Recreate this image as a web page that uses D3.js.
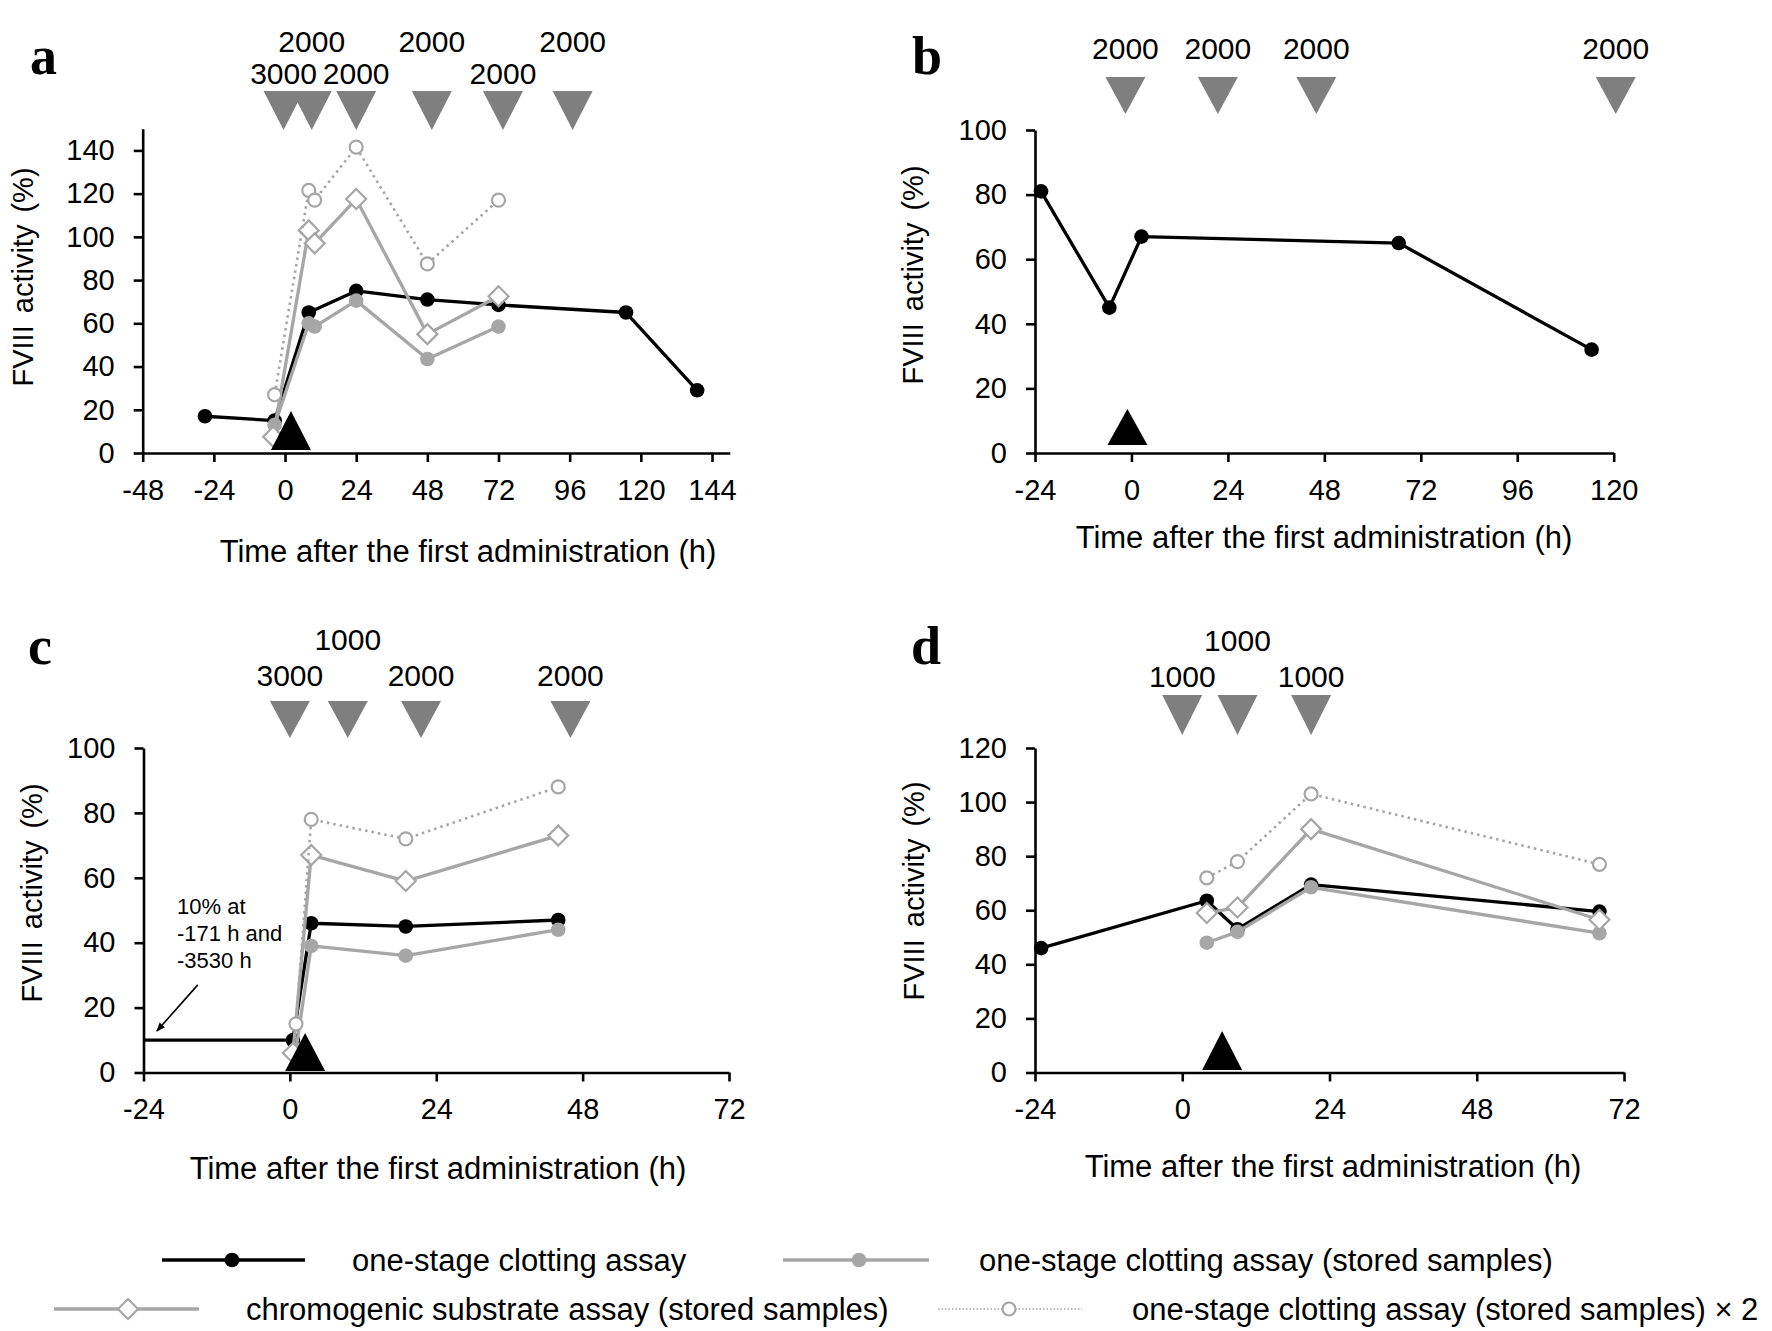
<!DOCTYPE html>
<html><head><meta charset="utf-8">
<script src="https://cdn.jsdelivr.net/npm/d3@7"></script>
<style>
body{margin:0;background:#fff}
svg{display:block}
text{font-family:"Liberation Sans",Arial,Helvetica,sans-serif;fill:#000}
</style></head><body>
<svg id="chart" width="1772" height="1331"></svg>
<script>
// ---------------- DATA ----------------
// Panel a
const aOneStageH = [-27, -3.5, 8, 24, 48, 72, 115, 139];
const aOneStageV = [17, 15, 65, 75, 71, 68.5, 65, 29];
const aStoredH = [-3.5, 8, 10, 24, 48, 72];
const aStoredV = [13, 60, 58.5, 70.5, 43.5, 58.5];
const aChromoH = [-4, 8, 10, 24, 48, 72];
const aChromoV = [7.5, 103, 97, 117.5, 55, 72.5];
const aDoubleH = [-3.5, 8, 10, 24, 48, 72];
const aDoubleV = [27, 121.5, 117, 141.5, 87.5, 117];
const aDoseH = [-0.5, 9, 24, 49.5, 73.5, 97];
const aDoseIU = ["3000", "2000", "2000", "2000", "2000", "2000"];
const aEventH = [2];
const aXTicks = [-48, -24, 0, 24, 48, 72, 96, 120, 144];
const aYTicks = [0, 20, 40, 60, 80, 100, 120, 140];

// Panel b
const bOneStageH = [-22.5, -5.5, 2.5, 66.5, 114.5];
const bOneStageV = [81, 45, 67, 65, 32];
const bDoseH = [-1.5, 21.5, 46, 120.5];
const bDoseIU = ["2000", "2000", "2000", "2000"];
const bEventH = [-1];
const bXTicks = [-24, 0, 24, 48, 72, 96, 120];
const bYTicks = [0, 20, 40, 60, 80, 100];

// Panel c
const cOneStageH = [-171, 0.5, 3.5, 19, 44];
const cOneStageV = [10, 10, 46, 45, 47];
const cStoredH = [1, 3.5, 19, 44];
const cStoredV = [7, 39, 36, 44];
const cChromoH = [0.5, 3.5, 19, 44];
const cChromoV = [6, 67, 59, 73];
const cDoubleH = [1, 3.5, 19, 44];
const cDoubleV = [15, 78, 72, 88];
const cDoseH = [0, 9.5, 21.5, 46];
const cDoseIU = ["3000", "1000", "2000", "2000"];
const cEventH = [2.5];
const cNote = ["10% at", "-171 h and", "-3530 h"];
const cXTicks = [-24, 0, 24, 48, 72];
const cYTicks = [0, 20, 40, 60, 80, 100];

// Panel d
const dOneStageH = [-23, 4, 9, 21, 68];
const dOneStageV = [46, 63.5, 53, 69.5, 59.5];
const dStoredH = [4, 9, 21, 68];
const dStoredV = [48, 52, 68.5, 51.5];
const dChromoH = [4, 9, 21, 68];
const dChromoV = [59, 61, 90, 56.5];
const dDoubleH = [4, 9, 21, 68];
const dDoubleV = [72, 78, 103, 77];
const dDoseH = [0, 9, 21];
const dDoseIU = ["1000", "1000", "1000"];
const dEventH = [6.5];
const dXTicks = [-24, 0, 24, 48, 72];
const dYTicks = [0, 20, 40, 60, 80, 100, 120];

const seriesNames = [
  "one-stage clotting assay",
  "one-stage clotting assay (stored samples)",
  "chromogenic substrate assay (stored samples)",
  "one-stage clotting assay (stored samples)\u00a0× 2"
];
const xTitle = "Time after the first administration (h)";
const yTitle = "FVIII activity (%)";

// ---------------- STYLES ----------------
const GRAY = "#a6a6a6";
const DOSE = "#7f7f7f";
const styles = [
  {stroke: "#000", width: 3.3, dash: null, marker: "dot", fill: "#000"},
  {stroke: GRAY, width: 3.3, dash: null, marker: "dot", fill: GRAY},
  {stroke: GRAY, width: 3.3, dash: null, marker: "diamond", fill: "#fff"},
  {stroke: GRAY, width: 2.6, dash: "2.5,4", marker: "circle", fill: "#fff"}
];

const zip = (h, v) => h.map((d, i) => [d, v[i]]);

const panels = [
  {letter: "a", letterPos: [30, 74],
   xDomain: [-48, 150], xRange: [142.7, 729.8], yDomain: [0, 150], yRange: [453, 128.8],
   xTicks: aXTicks, yTicks: aYTicks,
   series: [zip(aOneStageH, aOneStageV), zip(aStoredH, aStoredV), zip(aChromoH, aChromoV), zip(aDoubleH, aDoubleV)],
   dose: aDoseH, doseIU: aDoseIU, doseRows: [0, 1, 0, 1, 0, 1], doseTri: [91, 130], doseBase: [84, 52],
   event: aEventH, eventTri: [411, 450],
   xTitlePos: [468, 562], yTitlePos: [33, 277]},
  {letter: "b", letterPos: [912, 74],
   xDomain: [-24, 120], xRange: [1035, 1613.7], yDomain: [0, 100], yRange: [453, 130],
   xTicks: bXTicks, yTicks: bYTicks,
   series: [zip(bOneStageH, bOneStageV)],
   dose: bDoseH, doseIU: bDoseIU, doseRows: [0, 0, 0, 0], doseTri: [77, 114], doseBase: [59, 59],
   event: bEventH, eventTri: [409, 445],
   xTitlePos: [1324, 548], yTitlePos: [923, 275]},
  {letter: "c", letterPos: [28, 664],
   xDomain: [-24, 72], xRange: [143.5, 729], yDomain: [0, 100], yRange: [1072.5, 748],
   xTicks: cXTicks, yTicks: cYTicks,
   series: [zip(cOneStageH, cOneStageV), zip(cStoredH, cStoredV), zip(cChromoH, cChromoV), zip(cDoubleH, cDoubleV)],
   dose: cDoseH, doseIU: cDoseIU, doseRows: [0, 1, 0, 0], doseTri: [701, 738], doseBase: [686, 650],
   event: cEventH, eventTri: [1033, 1071],
   note: cNote, notePos: [177, 914], noteStep: 27, arrow: [[-15.1, 27], [-21.8, 12.8]],
   xTitlePos: [438, 1179], yTitlePos: [42, 893]},
  {letter: "d", letterPos: [911, 664],
   xDomain: [-24, 72], xRange: [1035, 1624], yDomain: [0, 120], yRange: [1072.5, 748],
   xTicks: dXTicks, yTicks: dYTicks,
   series: [zip(dOneStageH, dOneStageV), zip(dStoredH, dStoredV), zip(dChromoH, dChromoV), zip(dDoubleH, dDoubleV)],
   dose: dDoseH, doseIU: dDoseIU, doseRows: [0, 1, 0], doseTri: [695, 735], doseBase: [687, 651],
   event: dEventH, eventTri: [1031, 1070],
   xTitlePos: [1333, 1177], yTitlePos: [924, 891]}
];

const svg = d3.select("#chart");
const defs = svg.append("defs");
defs.append("marker").attr("id", "arrowhead").attr("viewBox", "0 0 10 10")
  .attr("refX", 9).attr("refY", 5).attr("markerWidth", 9).attr("markerHeight", 9)
  .attr("markerUnits", "userSpaceOnUse").attr("orient", "auto")
  .append("path").attr("d", "M0,1 L10,5 L0,9 Z").attr("fill", "#000");

function drawMarker(g, type, cx, cy, st) {
  if (type === "dot") {
    g.append("circle").attr("cx", cx).attr("cy", cy).attr("r", 7.3).attr("fill", st.fill);
  } else if (type === "circle") {
    g.append("circle").attr("cx", cx).attr("cy", cy).attr("r", 6.5)
      .attr("fill", "#fff").attr("stroke", st.stroke).attr("stroke-width", 2.2);
  } else {
    const s = 10;
    g.append("path").attr("d", `M${cx},${cy - s}L${cx + s},${cy}L${cx},${cy + s}L${cx - s},${cy}Z`)
      .attr("fill", "#fff").attr("stroke", st.stroke).attr("stroke-width", 2.2);
  }
}

panels.forEach((p, pi) => {
  const x = d3.scaleLinear().domain(p.xDomain).range(p.xRange);
  const y = d3.scaleLinear().domain(p.yDomain).range(p.yRange);
  const g = svg.append("g");
  const clipId = "clip" + pi;
  defs.append("clipPath").attr("id", clipId).append("rect")
    .attr("x", p.xRange[0]).attr("y", p.yRange[1] - 40)
    .attr("width", p.xRange[1] - p.xRange[0]).attr("height", p.yRange[0] - p.yRange[1] + 60);

  // axes
  const xAxis = d3.axisBottom(x).tickValues(p.xTicks).tickSize(9).tickSizeOuter(0)
    .tickPadding(17).tickFormat(d => String(d));
  const yAxis = d3.axisLeft(y).tickValues(p.yTicks).tickSize(9).tickSizeOuter(0)
    .tickPadding(19).tickFormat(d => String(d));
  const gx = g.append("g").attr("transform", `translate(0,${p.yRange[0]})`).call(xAxis);
  const gy = g.append("g").attr("transform", `translate(${p.xRange[0]},0)`).call(yAxis);
  [gx, gy].forEach(a => {
    a.selectAll("path,line").attr("stroke", "#000").attr("stroke-width", 2.6);
    a.selectAll("text").attr("font-size", 29).attr("fill", "#000")
      .style("font-family", '"Liberation Sans",Arial,sans-serif');
  });

  // series lines and markers
  p.series.forEach((pts, si) => {
    const st = styles[si];
    const line = d3.line().x(d => x(d[0])).y(d => y(d[1]));
    g.append("path").attr("d", line(pts)).attr("fill", "none")
      .attr("stroke", st.stroke).attr("stroke-width", st.width)
      .attr("stroke-dasharray", st.dash).attr("stroke-linejoin", "round")
      .attr("clip-path", `url(#${clipId})`);
    const mg = g.append("g");
    pts.filter(d => d[0] >= p.xDomain[0]).forEach(d => drawMarker(mg, st.marker, x(d[0]), y(d[1]), st));
  });

  // first-administration event (black up triangle)
  p.event.forEach(h => {
    const cx = x(h), t = p.eventTri[0], b = p.eventTri[1], w = 20;
    g.append("path").attr("d", `M${cx},${t}L${cx + w},${b}L${cx - w},${b}Z`).attr("fill", "#000");
  });

  // dose triangles + labels
  p.dose.forEach((h, i) => {
    const cx = x(h), t = p.doseTri[0], b = p.doseTri[1], w = 20;
    g.append("path").attr("d", `M${cx - w},${t}L${cx + w},${t}L${cx},${b}Z`).attr("fill", DOSE);
    g.append("text").attr("x", cx).attr("y", p.doseBase[p.doseRows[i]])
      .attr("text-anchor", "middle").attr("font-size", 30).text(p.doseIU[i]);
  });

  // note (panel c)
  if (p.note) {
    p.note.forEach((t, i) => {
      g.append("text").attr("x", p.notePos[0]).attr("y", p.notePos[1] + i * p.noteStep)
        .attr("font-size", 22).text(t);
    });
    g.append("line").attr("x1", x(p.arrow[0][0])).attr("y1", y(p.arrow[0][1]))
      .attr("x2", x(p.arrow[1][0])).attr("y2", y(p.arrow[1][1]))
      .attr("stroke", "#000").attr("stroke-width", 1.6).attr("marker-end", "url(#arrowhead)");
  }

  // titles
  g.append("text").attr("x", p.xTitlePos[0]).attr("y", p.xTitlePos[1])
    .attr("text-anchor", "middle").attr("font-size", 31).text(xTitle);
  g.append("text").attr("transform", `translate(${p.yTitlePos[0]},${p.yTitlePos[1]}) rotate(-90)`)
    .attr("text-anchor", "middle").attr("font-size", 29).attr("word-spacing", 4).text(yTitle);
  g.append("text").attr("x", p.letterPos[0]).attr("y", p.letterPos[1])
    .attr("font-size", 54).attr("font-weight", "bold")
    .style("font-family", '"Liberation Serif","Times New Roman",serif').text(p.letter);
});

// ---------------- LEGEND ----------------
const legendLayout = [
  {x1: 162, x2: 305, mx: 232, y: 1260, tx: 352},
  {x1: 783, x2: 929, mx: 859, y: 1260, tx: 979},
  {x1: 54, x2: 199, mx: 128, y: 1309, tx: 246},
  {x1: 938, x2: 1082, mx: 1009, y: 1309, tx: 1132}
];
const lg = svg.append("g");
seriesNames.forEach((name, i) => {
  const L = legendLayout[i], st = styles[i];
  lg.append("line").attr("x1", L.x1).attr("x2", L.x2).attr("y1", L.y).attr("y2", L.y)
    .attr("stroke", st.stroke).attr("stroke-width", i === 3 ? 1.6 : st.width)
    .attr("stroke-dasharray", i === 3 ? "1.5,2" : null);
  drawMarker(lg, st.marker, L.mx, L.y, st);
  lg.append("text").attr("x", L.tx).attr("y", L.y + 11).attr("font-size", 31).text(name);
});
</script>
</body></html>
